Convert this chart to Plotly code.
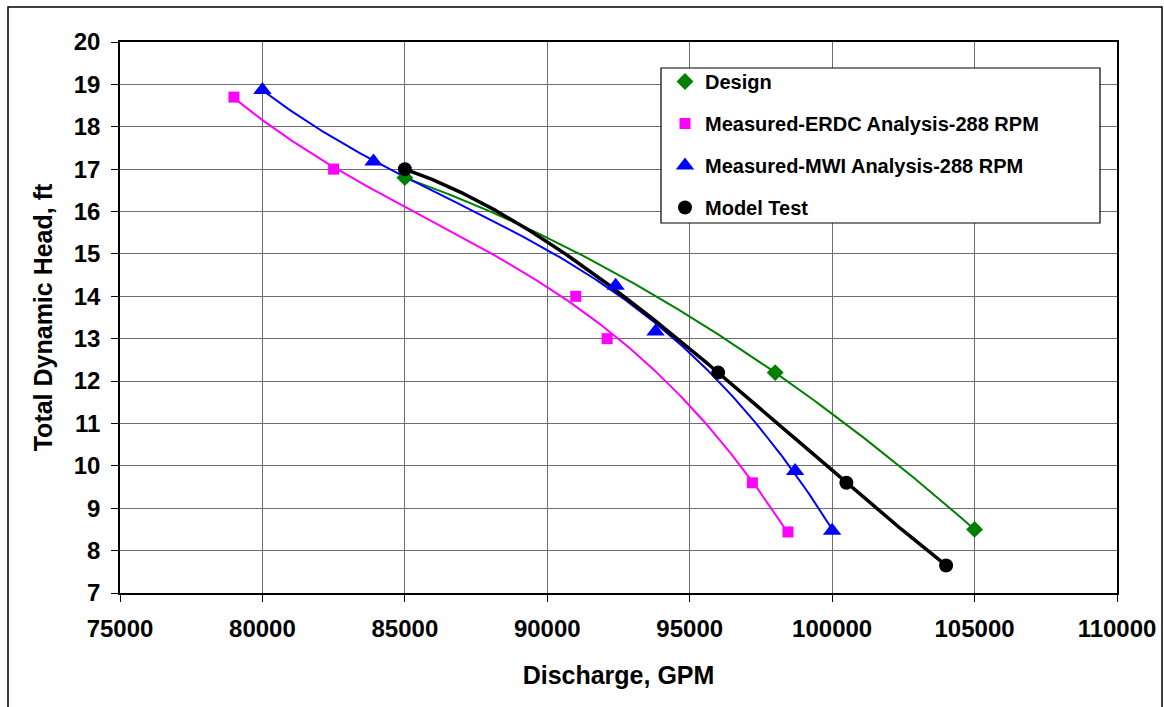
import numpy as np
import plotly.graph_objects as go

# ---- data ----
design_q = [85000, 98000, 105000]
design_h = [16.8, 12.2, 8.5]

erdc_q = [79000, 82500, 91000, 92100, 97200, 98450]
erdc_h = [18.7, 17.0, 14.0, 13.0, 9.6, 8.44]

mwi_q = [80000, 83900, 92400, 93800, 98700, 100000]
mwi_h = [18.87, 17.18, 14.25, 13.17, 9.88, 8.47]

model_q = [85000, 96000, 100500, 104000]
model_h = [17.0, 12.2, 9.6, 7.65]

names = ["Design", "Measured-ERDC Analysis-288 RPM",
         "Measured-MWI Analysis-288 RPM", "Model Test"]
x_ticks = [75000, 80000, 85000, 90000, 95000, 100000, 105000, 110000]
y_ticks = list(range(7, 21))

FONT = "Arial, Liberation Sans, sans-serif"

# (x, y, name, colour, symbol, marker size, line width, trendline order)
series = [
    (design_q, design_h, names[0], "#008000", "diamond", 13, 2, 2),
    (erdc_q, erdc_h, names[1], "#FF00FF", "square", 11, 2, 3),
    (mwi_q, mwi_h, names[2], "#0000FF", "triangle-up", 16, 2, 3),
    (model_q, model_h, names[3], "#000000", "circle", 14, 3.5, 3),
]

fig = go.Figure()
# polynomial trendlines fitted to each series (as in the spreadsheet chart)
for q, h, name, col, sym, size, lw, order in series:
    qa = np.asarray(q, float)
    coef = np.polyfit((qa - 90000) / 10000, np.asarray(h, float), order)
    xs = np.linspace(qa.min(), qa.max(), 200)
    ys = np.polyval(coef, (xs - 90000) / 10000)
    fig.add_trace(go.Scatter(
        x=xs, y=ys, mode="lines", line=dict(color=col, width=lw),
        showlegend=False, hoverinfo="skip"))
for i, (q, h, name, col, sym, size, lw, order) in enumerate(series):
    fig.add_trace(go.Scatter(
        x=q, y=h, mode="markers", name=name, legendgroup=f"g{i}",
        marker=dict(color=col, symbol=sym, size=size, line=dict(width=0))))

W, H = 1164, 707
L, T, R, B = 120, 42, W - 1117, H - 593
pw, ph = W - L - R, H - T - B

def px(xp):
    return (xp - L) / pw

def py(yp):
    return (H - B - yp) / ph

fig.update_layout(
    width=W, height=H, autosize=False,
    margin=dict(l=L, r=R, t=T, b=B, autoexpand=False),
    paper_bgcolor="white", plot_bgcolor="white",
    font=dict(family=FONT, color="black"),
    xaxis=dict(
        range=[75000, 110000], tickvals=x_ticks, tickformat="d", automargin=False,
        showgrid=True, gridcolor="#6e6e6e", gridwidth=1,
        showline=True, linecolor="black", linewidth=1.5, mirror=True,
        ticks="outside", ticklen=7, tickcolor="black", ticklabelstandoff=6,
        tickfont=dict(size=24, family=FONT, color="black", weight="bold"),
        title=dict(text="<b>Discharge, GPM</b>", font=dict(size=25, family=FONT), standoff=26),
        zeroline=False,
    ),
    yaxis=dict(
        range=[7, 20], tickvals=y_ticks, automargin=False,
        showgrid=True, gridcolor="#6e6e6e", gridwidth=1,
        showline=True, linecolor="black", linewidth=1.5, mirror=True,
        ticks="outside", ticklen=7, tickcolor="black", ticklabelstandoff=6,
        tickfont=dict(size=24, family=FONT, color="black", weight="bold"),
        title=dict(text="<b>Total Dynamic Head, ft</b>", font=dict(size=25, family=FONT), standoff=14),
        zeroline=False,
    ),
    legend=dict(
        x=px(665), y=py(62), xanchor="left", yanchor="top",
        bgcolor="rgba(0,0,0,0)", borderwidth=0,
        font=dict(size=20, family=FONT, color="black", weight="bold"),
        traceorder="grouped", tracegroupgap=13,
    ),
    shapes=[
        dict(type="rect", xref="paper", yref="paper",
             x0=px(661), x1=px(1100), y0=py(223), y1=py(68),
             line=dict(color="black", width=1.2), fillcolor="white", layer="above"),
        dict(type="rect", xref="paper", yref="paper",
             x0=px(8), x1=px(1162), y0=py(720), y1=py(7),
             line=dict(color="black", width=1.5), fillcolor="rgba(0,0,0,0)", layer="below"),
    ],
)

fig.write_html(
    "out.html",
    config={"displayModeBar": False},
    post_script="document.body.style.margin='0';document.body.style.overflow='hidden';",
)
